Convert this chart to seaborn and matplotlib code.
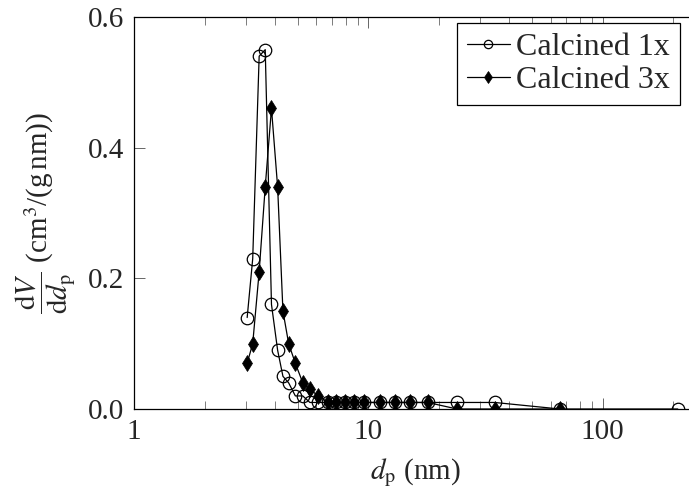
import numpy as np
import pandas as pd
import matplotlib
matplotlib.use("Agg")
import matplotlib.pyplot as plt
import seaborn as sns
from matplotlib.ticker import LogLocator, FixedLocator, FormatStrFormatter, NullFormatter

# Pore diameter grid (nm) and pore volume distributions
dp_1x = [3.04, 3.21, 3.42, 3.63, 3.86, 4.10, 4.32, 4.57, 4.88, 5.25, 5.63, 6.12,
         6.70, 7.28, 7.92, 8.70, 9.62, 11.2, 13.0, 15.0, 17.9, 23.9, 34.6, 65.6, 209.0]
dv_1x = [0.14, 0.23, 0.54, 0.55, 0.16, 0.09, 0.05, 0.04, 0.02, 0.02, 0.01, 0.01,
         0.01, 0.01, 0.01, 0.01, 0.01, 0.01, 0.01, 0.01, 0.01, 0.01, 0.01, 0.0, 0.0]

dp_3x = [3.04, 3.21, 3.42, 3.63, 3.86, 4.10, 4.32, 4.57, 4.88, 5.25, 5.63, 6.12,
         6.70, 7.28, 7.92, 8.70, 9.62, 11.2, 13.0, 15.0, 17.9, 23.9, 34.6, 65.6]
dv_3x = [0.07, 0.10, 0.21, 0.34, 0.46, 0.34, 0.15, 0.10, 0.07, 0.04, 0.03, 0.02,
         0.01, 0.01, 0.01, 0.01, 0.01, 0.01, 0.01, 0.01, 0.01, 0.0, 0.0, 0.0]

labels = ["Calcined 1x", "Calcined 3x"]
y_ticks = [0.0, 0.2, 0.4, 0.6]
x_ticks = [1, 10, 100]

sns.set_theme(style="ticks")
plt.rcParams["font.family"] = ["Liberation Serif", "DejaVu Serif"]
plt.rcParams["mathtext.fontset"] = "stix"
FS = 21

fig = plt.figure(figsize=(6.89, 4.97), dpi=100)
ax = fig.add_axes([134 / 689, 88 / 497, 562 / 689, 392 / 497])

df1 = pd.DataFrame({"dp": dp_1x, "dv": dv_1x})
df3 = pd.DataFrame({"dp": dp_3x, "dv": dv_3x})

sns.lineplot(data=df1, x="dp", y="dv", ax=ax, color="black", lw=0.9,
             marker="o", markersize=9, markerfacecolor="none",
             markeredgecolor="black", markeredgewidth=0.9,
             estimator=None, label=labels[0])
sns.lineplot(data=df3, x="dp", y="dv", ax=ax, color="black", lw=0.9,
             marker="d", markersize=8.5, markerfacecolor="black",
             markeredgecolor="black", markeredgewidth=0.5,
             estimator=None, label=labels[1])

ax.set_xscale("log")
ax.set_xlim(1, 250)
ax.set_ylim(0, 0.6)

ax.xaxis.set_major_locator(FixedLocator(x_ticks))
ax.set_xticklabels([str(t) for t in x_ticks])
ax.xaxis.set_minor_locator(LogLocator(base=10, subs=np.arange(2, 10)))
ax.xaxis.set_minor_formatter(NullFormatter())
ax.yaxis.set_major_locator(FixedLocator(y_ticks))
ax.yaxis.set_major_formatter(FormatStrFormatter("%.1f"))

ax.tick_params(axis="both", which="major", direction="in", length=8, width=0.7,
               labelsize=FS, color="0.4", pad=7)
ax.tick_params(axis="x", which="minor", direction="in", length=5.5, width=0.6,
               color="0.4")
ax.tick_params(axis="x", which="both", top=True)
ax.tick_params(axis="y", which="both", right=False)

for s in ax.spines.values():
    s.set_color("black")
    s.set_linewidth(0.9)

ax.set_xlabel(r"$d_\mathrm{p}$ (nm)", fontsize=FS, labelpad=8)
ax.set_ylabel(r"$\dfrac{\mathrm{d}V}{\mathrm{d}d_\mathrm{p}}$ (cm$^3$/(g$\,$nm))",
              fontsize=FS, labelpad=8)

leg = ax.legend(loc="upper left", bbox_to_anchor=(457 / 689, 1 - 23 / 497),
                bbox_transform=fig.transFigure, fontsize=23, frameon=True,
                fancybox=False, edgecolor="black", framealpha=1,
                handlelength=1.35, handletextpad=0.2, labelspacing=0.12,
                borderpad=0.3, borderaxespad=0)
leg.get_frame().set_linewidth(0.9)
for h in leg.legend_handles:
    h.set_markersize(6)

fig.savefig("out.png", dpi=100)
